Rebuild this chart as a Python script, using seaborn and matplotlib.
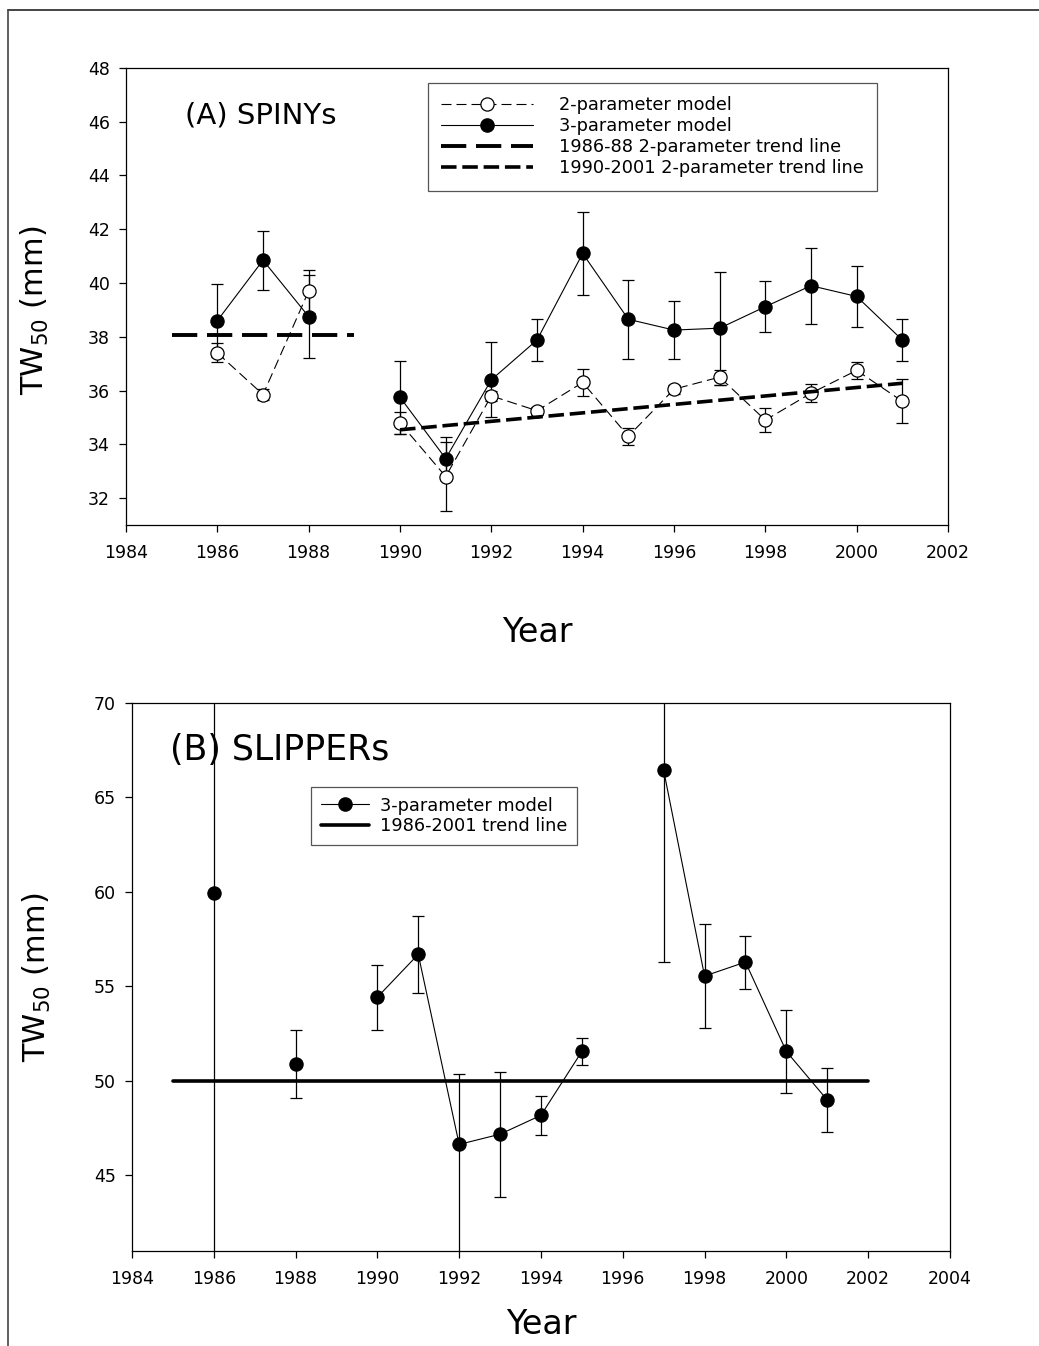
import numpy as np
import pandas as pd
import matplotlib
matplotlib.use("Agg")
import matplotlib.pyplot as plt
from matplotlib.lines import Line2D
import seaborn as sns

# ---- data ----
years_a = [1986, 1987, 1988, 1990, 1991, 1992, 1993, 1994, 1995, 1996, 1997, 1998, 1999, 2000, 2001]
seg_a = [0, 0, 0, 1, 1, 1, 1, 1, 1, 1, 1, 1, 1, 1, 1]
two_param = [37.4, 35.85, 39.7, 34.8, 32.8, 35.8, 35.25, 36.3, 34.3, 36.05, 36.5, 34.9, 35.9, 36.75, 35.6]
two_err = [0.35, 0.2, 0.8, 0.4, 1.27, 0.2, 0.15, 0.49, 0.32, 0.17, 0.28, 0.45, 0.33, 0.31, 0.82]
three_param = [38.6, 40.85, 38.75, 35.75, 33.47, 36.4, 37.88, 41.1, 38.65, 38.25, 38.32, 39.12, 39.9, 39.5, 37.88]
three_err = [1.35, 1.1, 1.55, 1.36, 0.8, 1.4, 0.79, 1.53, 1.47, 1.07, 2.1, 0.96, 1.42, 1.12, 0.77]

trend_early_x = [1985, 1989]
trend_early_y = [38.08, 38.08]
trend_late_x = [1990, 2001]
trend_late_y = [34.54, 36.27]

years_b = [1986, 1988, 1990, 1991, 1992, 1993, 1994, 1995, 1997, 1998, 1999, 2000, 2001]
seg_b = [0, 1, 2, 2, 2, 2, 2, 2, 3, 3, 3, 3, 3]
slipper = [59.95, 50.9, 54.43, 56.7, 46.64, 47.18, 48.18, 51.56, 66.44, 55.55, 56.29, 51.56, 48.99]
slipper_lo = [20.0, 1.82, 1.73, 2.05, 6.0, 3.3, 1.03, 0.72, 10.15, 2.76, 1.4, 2.18, 1.69]
slipper_hi = [20.0, 1.82, 1.73, 2.05, 3.7, 3.3, 1.03, 0.72, 10.15, 2.76, 1.4, 2.18, 1.69]

trend_b_x = [1985, 2002]
trend_b_y = [50.02, 50.02]

df_a = pd.DataFrame({"year": years_a, "seg": seg_a, "two": two_param, "three": three_param})
df_b = pd.DataFrame({"year": years_b, "seg": seg_b, "three": slipper})

sns.set_theme(style="ticks")
plt.rcParams["font.family"] = ["DejaVu Sans"]
plt.rcParams["axes.linewidth"] = 0.9
plt.rcParams["text.color"] = "black"
plt.rcParams["axes.labelcolor"] = "black"
plt.rcParams["xtick.color"] = "black"
plt.rcParams["ytick.color"] = "black"

fig = plt.figure(figsize=(10.39, 13.46), dpi=100)

# figure frame (top and left edges visible)
fx, fy = 8 / 1039, 1 - 10 / 1346
fig.add_artist(Line2D([fx, 1.0], [fy, fy], transform=fig.transFigure, color="#444444", lw=1.4))
fig.add_artist(Line2D([fx, fx], [0.0, fy], transform=fig.transFigure, color="#444444", lw=1.2))

ax1 = fig.add_axes([0.1213, 0.6100, 0.7911, 0.3395])
ax2 = fig.add_axes([0.1270, 0.0706, 0.7873, 0.4071])

thin_dash = (0, (9, 4.5))

# ---- panel A ----
ax1.errorbar(years_a, two_param, yerr=two_err, fmt="none", ecolor="black",
             elinewidth=0.9, capsize=4.5, capthick=0.9, zorder=2)
ax1.errorbar(years_a, three_param, yerr=three_err, fmt="none", ecolor="black",
             elinewidth=0.9, capsize=4.5, capthick=0.9, zorder=2)
sns.lineplot(data=df_a, x="year", y="two", units="seg", estimator=None, ax=ax1,
             color="black", linewidth=0.8, linestyle=thin_dash, marker="o", markersize=9.5,
             markerfacecolor="white", markeredgecolor="black", markeredgewidth=0.9, zorder=3)
sns.lineplot(data=df_a, x="year", y="three", units="seg", estimator=None, ax=ax1,
             color="black", linewidth=0.8, marker="o", markersize=9.5,
             markerfacecolor="black", markeredgecolor="black", markeredgewidth=0.9, zorder=4)
sns.lineplot(x=trend_early_x, y=trend_early_y, ax=ax1, color="black", linewidth=2.8,
             linestyle=(0, (6.5, 2.5)), zorder=5)
sns.lineplot(x=trend_late_x, y=trend_late_y, ax=ax1, color="black", linewidth=2.6,
             linestyle=(0, (4.3, 1.6)), zorder=5)

ax1.set_xlim(1984, 2002)
ax1.set_ylim(31, 48)
ax1.set_xticks(np.arange(1984, 2003, 2))
ax1.set_yticks(np.arange(32, 49, 2))

handles_a = [
    Line2D([], [], color="black", lw=0.8, ls=thin_dash, marker="o", ms=9.5,
           mfc="white", mec="black", mew=0.9),
    Line2D([], [], color="black", lw=0.8, marker="o", ms=9.5, mfc="black", mec="black"),
    Line2D([], [], color="black", lw=2.8, ls=(0, (6.5, 2.5))),
    Line2D([], [], color="black", lw=2.6, ls=(0, (4.3, 1.6))),
]
labels_a = ["2-parameter model", "3-parameter model",
            "1986-88 2-parameter trend line", "1990-2001 2-parameter trend line"]
leg1 = ax1.legend(handles_a, labels_a, loc="upper left", bbox_to_anchor=(0.367, 0.967),
                  borderaxespad=0, fontsize=12.8, handlelength=5.2, handletextpad=1.45,
                  labelspacing=0.17, borderpad=0.75, fancybox=False, framealpha=1,
                  edgecolor="#555555")
leg1.get_frame().set_linewidth(0.9)

ax1.text(0.072, 0.897, "(A) SPINYs", transform=ax1.transAxes, fontsize=21,
         ha="left", va="center")

# ---- panel B ----
ax2.errorbar(years_b, slipper, yerr=[slipper_lo, slipper_hi], fmt="none", ecolor="black",
             elinewidth=0.9, capsize=4.5, capthick=0.9, zorder=2)
sns.lineplot(data=df_b, x="year", y="three", units="seg", estimator=None, ax=ax2,
             color="black", linewidth=0.8, marker="o", markersize=9.5,
             markerfacecolor="black", markeredgecolor="black", markeredgewidth=0.9, zorder=4)
sns.lineplot(x=trend_b_x, y=trend_b_y, ax=ax2, color="black", linewidth=2.6, zorder=3)

ax2.set_xlim(1984, 2004)
ax2.set_ylim(41, 70)
ax2.set_xticks(np.arange(1984, 2005, 2))
ax2.set_yticks(np.arange(45, 71, 5))

handles_b = [
    Line2D([], [], color="black", lw=0.8, marker="o", ms=9.5, mfc="black", mec="black"),
    Line2D([], [], color="black", lw=2.6),
]
labels_b = ["3-parameter model", "1986-2001 trend line"]
leg2 = ax2.legend(handles_b, labels_b, loc="upper left", bbox_to_anchor=(0.219, 0.847),
                  borderaxespad=0, fontsize=12.8, handlelength=2.7, handletextpad=0.6,
                  labelspacing=0.15, borderpad=0.55, fancybox=False, framealpha=1,
                  edgecolor="#555555")
leg2.get_frame().set_linewidth(0.9)

ax2.text(0.046, 0.914, "(B) SLIPPERs", transform=ax2.transAxes, fontsize=25,
         ha="left", va="center")

# ---- shared styling ----
for ax, ylab_pos, xlab_y in [(ax1, (-0.111, 0.47), -0.236), (ax2, (-0.116, 0.5), -0.135)]:
    for side in ["top", "right", "left", "bottom"]:
        ax.spines[side].set_visible(True)
        ax.spines[side].set_color("black")
    ax.tick_params(axis="both", direction="out", length=5, width=0.9, colors="black",
                   labelsize=12.5)
    ax.tick_params(axis="x", pad=8.5)
    ax.tick_params(axis="y", pad=6.5)
    ax.set_xlabel("Year", fontsize=24)
    ax.set_ylabel("TW$_{50}$ (mm)", fontsize=22)
    ax.xaxis.set_label_coords(0.5, xlab_y)
    ax.yaxis.set_label_coords(*ylab_pos)
    ax.xaxis.label.set_verticalalignment("center")
    ax.yaxis.label.set_verticalalignment("center")
    ax.grid(False)

fig.savefig("out.png", dpi=100)
